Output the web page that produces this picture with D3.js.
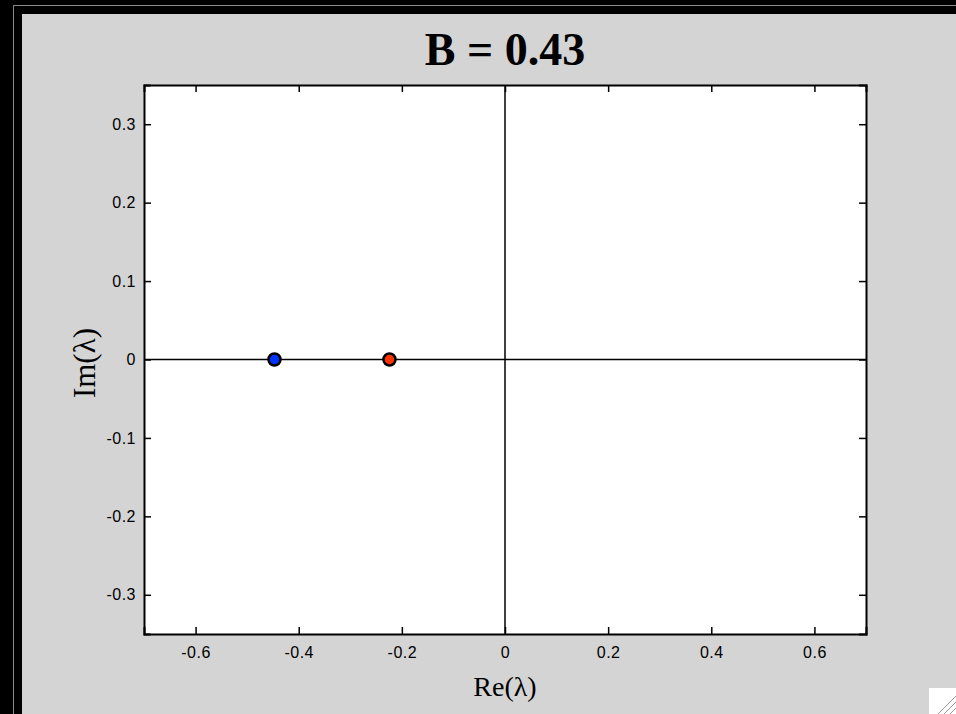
<!DOCTYPE html>
<html>
<head>
<meta charset="utf-8">
<script src="https://cdn.jsdelivr.net/npm/d3@7"></script>
<style>
  body { margin: 0; background: #000; overflow: hidden; }
</style>
</head>
<body>
<div id="plot"></div>
<script>
// eigenvalues for B = 0.43
var title = "B = 0.43";
var eigenRe = [-0.447, -0.224];
var eigenIm = [0, 0];
var pointColors = ["#0033ff", "#ff3300"];
var xTicks = [-0.6, -0.4, -0.2, 0, 0.2, 0.4, 0.6];
var yTicks = [-0.3, -0.2, -0.1, 0, 0.1, 0.2, 0.3];

var w = 956, h = 714;
var pL = 144, pR = 866, pT = 85, pB = 634;

var svg = d3.select("#plot")
    .append("svg")
    .attr("width", w)
    .attr("height", h);

// window frame
svg.append("rect").attr("width", w).attr("height", h).attr("fill", "#000");
svg.append("rect")
    .attr("x", 13.5).attr("y", 5.5)
    .attr("width", w).attr("height", h)
    .attr("fill", "none").attr("stroke", "#8a8a8a").attr("stroke-width", 1);
svg.append("rect")
    .attr("x", 22).attr("y", 14)
    .attr("width", w).attr("height", h)
    .attr("fill", "#d4d4d4");

var xScale = d3.scaleLinear().domain([-0.7, 0.7]).range([pL, pR]);
var yScale = d3.scaleLinear().domain([-0.35, 0.35]).range([pB, pT]);

svg.append("rect")
    .attr("x", pL).attr("y", pT)
    .attr("width", pR - pL).attr("height", pB - pT)
    .attr("fill", "#fff");

// zero lines
svg.append("line")
    .attr("x1", pL).attr("x2", pR)
    .attr("y1", yScale(0)).attr("y2", yScale(0))
    .attr("stroke", "#000").attr("stroke-width", 1.5);
svg.append("line")
    .attr("x1", xScale(0)).attr("x2", xScale(0))
    .attr("y1", pT).attr("y2", pB)
    .attr("stroke", "#000").attr("stroke-width", 1.5);

// inward ticks on all four sides
var tl = 7;
function fmt(d) { return d === 0 ? "0" : d3.format(".1f")(d).replace("−", "-"); }

var axes = [
    { a: d3.axisBottom(xScale).tickValues(xTicks).tickSize(-tl).tickPadding(13).tickFormat(fmt), t: "translate(0," + pB + ")" },
    { a: d3.axisTop(xScale).tickValues(xTicks).tickSize(-tl).tickFormat(""), t: "translate(0," + pT + ")" },
    { a: d3.axisLeft(yScale).tickValues(yTicks).tickSize(-tl).tickPadding(8).tickFormat(fmt), t: "translate(" + pL + ",0)" },
    { a: d3.axisRight(yScale).tickValues(yTicks).tickSize(-tl).tickFormat(""), t: "translate(" + pR + ",0)" }
];
axes.forEach(function (ax) {
    var g = svg.append("g").attr("transform", ax.t).call(ax.a)
        .attr("font-family", "Liberation Sans")
        .attr("font-size", 16);
    g.select(".domain").attr("stroke", "#000").attr("stroke-width", 2);
    g.selectAll(".tick line").attr("stroke", "#000").attr("stroke-width", 1.5);
    g.selectAll(".tick text")
        .attr("letter-spacing", 0.5)
        .attr("fill", "#000");
});

// eigenvalue points
svg.selectAll("circle.pt")
    .data(eigenRe)
    .enter()
    .append("circle")
    .attr("class", "pt")
    .attr("cx", function (d) { return xScale(d); })
    .attr("cy", function (d, i) { return yScale(eigenIm[i]); })
    .attr("r", 6)
    .attr("fill", function (d, i) { return pointColors[i]; })
    .attr("stroke", "#000")
    .attr("stroke-width", 2.5);

// title and axis labels
svg.append("text")
    .attr("x", (pL + pR) / 2).attr("y", 65)
    .attr("text-anchor", "middle")
    .attr("font-family", "Liberation Serif")
    .attr("font-weight", "bold")
    .attr("font-size", 46)
    .text(title);

svg.append("text")
    .attr("x", (pL + pR) / 2).attr("y", 696)
    .attr("text-anchor", "middle")
    .attr("font-family", "Liberation Serif")
    .attr("font-size", 28)
    .text("Re(λ)");

svg.append("text")
    .attr("transform", "translate(95,363) rotate(-90)")
    .attr("text-anchor", "middle")
    .attr("font-family", "Liberation Serif")
    .attr("font-size", 31)
    .text("Im(λ)");

// window resize grip
var grip = svg.append("g").attr("transform", "translate(929,688)");
grip.append("rect").attr("width", 27).attr("height", 26).attr("fill", "#fff");
[6, 12, 18].forEach(function (o) {
    grip.append("line")
        .attr("x1", 27 - o).attr("y1", 26)
        .attr("x2", 27).attr("y2", 26 - o)
        .attr("stroke", "#999").attr("stroke-width", 1);
});
</script>
</body>
</html>
